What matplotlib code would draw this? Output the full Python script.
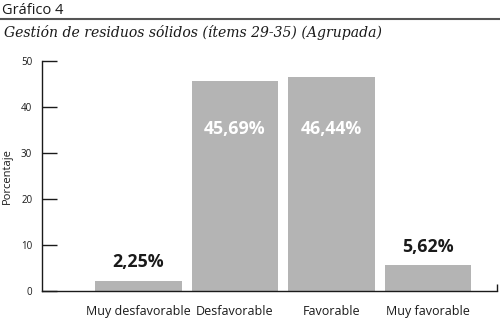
import matplotlib
matplotlib.use("Agg")
import matplotlib.pyplot as plt
from matplotlib.lines import Line2D

categories = ["Muy desfavorable", "Desfavorable", "Favorable", "Muy favorable"]
values = [2.25, 45.69, 46.44, 5.62]
labels = ["2,25%", "45,69%", "46,44%", "5,62%"]
yticks = [0, 10, 20, 30, 40, 50]
inner_label_y = 35.2

plt.rcParams['font.family'] = ['Open Sans', 'DejaVu Sans']

fig = plt.figure(figsize=(5, 3.18), dpi=100)
ax = fig.add_axes([0.084, 0.085, 0.91, 0.723])

x = list(range(len(categories)))
ax.bar(x, values, width=0.9, color="#b4b4b4")
for xi, v, lab in zip(x, values, labels):
    if v > 20:
        ax.text(xi, inner_label_y, lab, ha="center", va="center", color="white",
                fontsize=12.8, fontweight="bold")
    else:
        ax.text(xi, v + 4.0, lab, ha="center", va="center", color="#1a1a1a",
                fontsize=12.8, fontweight="bold")

xmin, xmax = -1.0, 3.715
ax.set_xlim(xmin, xmax)
ax.set_ylim(0, 50)
ax.set_xticks(x)
ax.set_xticklabels(categories, fontsize=9, color="#1a1a1a")
ax.set_xticks([xmax - 0.005], minor=True)
ax.set_yticks(yticks)
ax.set_yticklabels([str(t) for t in yticks], fontsize=7, color="#1a1a1a")
ax.tick_params(axis="y", direction="in", length=11, width=1, pad=7, color="#1a1a1a")
ax.tick_params(axis="x", which="major", length=0, pad=10)
ax.tick_params(axis="x", which="minor", direction="in", length=5, width=1, color="#1a1a1a")
for s in ["top", "right"]:
    ax.spines[s].set_visible(False)
for s in ["left", "bottom"]:
    ax.spines[s].set_color("#1a1a1a")
    ax.spines[s].set_linewidth(1)
ax.set_ylabel("Porcentaje", fontsize=8, color="#1a1a1a", labelpad=6)

fig.text(0.004, 0.966, "Gráfico 4", fontsize=10.5, color="#1a1a1a", va="center", ha="left")
fig.add_artist(Line2D([0, 1], [0.94, 0.94], transform=fig.transFigure, color="#555555", lw=1.5))
fig.text(0.008, 0.898, "Gestión de residuos sólidos (ítems 29-35) (Agrupada)",
         fontsize=10.1, fontstyle="italic", family="DejaVu Serif", color="#1a1a1a",
         va="center", ha="left")

fig.savefig("out.png", dpi=100)
